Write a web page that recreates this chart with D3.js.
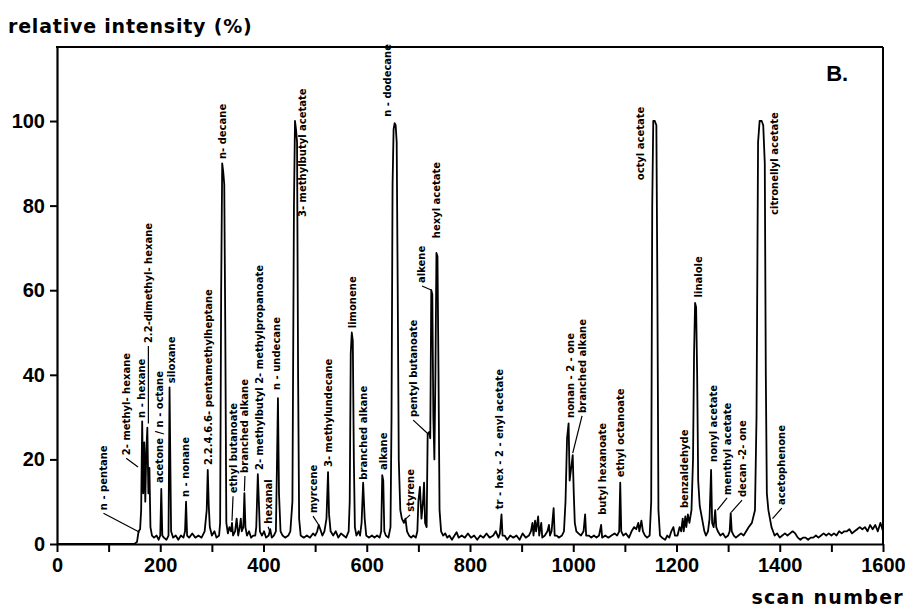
<!DOCTYPE html>
<html>
<head>
<meta charset="utf-8">
<script src="https://cdn.jsdelivr.net/npm/d3@7"></script>
<style>
  body { margin: 0; background: #fff; }
  svg { display: block; }
</style>
</head>
<body>
<svg id="chart"></svg>
<script>
// chromatogram trace: [scan number, relative intensity %]
var trace = [
  [0,0],[150,0],[155,0.5],[158,3],[161,3.5],[163,8],[165,29],[167,12],[169,24],[171,10],[173,22],[175,27.5],[177,12],[179,18],[181,4],[184,2],
  [188,1.5],[193,2],[197,1],[200,2],[202,13],[204,2],[207,1.5],[212,1],[216,2],[218,37],[221,3],[225,1.5],[230,2],[235,1],[240,2],[245,1.5],
  [248,3],[250,10],[252,2],[256,1.5],[262,2.5],[268,1.5],[274,2],[280,1.5],[286,3],[290,8],[292,17.5],[294,9],[296,4],[300,2],[305,3],[309,1.5],
  [314,2],[316,5],[318,60],[320,90],[322,88],[324,85],[326,50],[328,5],[331,2.5],[334,4],[337,3],[339,5],[341,2],[345,3],[348,6],[351,2],
  [354,4],[356,6],[358,3],[361,4],[363,12],[365,4],[368,2],[372,3],[376,1.5],[380,2],[384,2],[386,4],[389,16.5],[391,10],[393,3],[397,2],
  [401,3],[405,1.5],[410,2],[413,3.5],[416,1.5],[420,2],[424,3],[426,18],[428,34.5],[430,12],[433,3],[437,2],[442,1.5],[448,2],[452,3],[456,10],
  [459,80],[461,100],[463,98],[465,95],[467,40],[469,6],[472,2],[478,1.5],[484,2],[490,1.5],[496,2.5],[500,2],[504,3],[507,4.5],[510,3.5],[514,2],
  [518,3],[522,6],[525,17],[527,7],[530,3],[535,2],[540,3],[545,1.5],[550,2.5],[555,2],[560,1.5],[565,3],[567,10],[569,45],[571,50],[573,48],
  [575,20],[577,4],[580,2],[584,3],[587,2],[590,5],[593,14.5],[596,6],[599,2],[604,1.5],[610,2],[615,1.5],[620,2],[625,1.5],[628,3],[630,16.3],
  [632,15],[634,3],[637,2],[642,1.5],[646,4],[648,30],[650,85],[652,98],[654,99.5],[656,99],[658,95],[660,60],[662,20],[665,8],[668,6],[672,5],
  [675,6],[678,3],[682,2],[686,1.5],[690,2],[695,1.5],[698,3],[700,10],[703,13.5],[706,6],[709,10],[711,14.5],[713,5],[716,4],[718,26],[721,26.5],
  [723,25],[725,60],[727,59],[729,30],[731,20],[733,40],[735,68.8],[737,68],[739,40],[741,8],[744,3],[748,2],[752,2.5],[756,1.5],[760,2],[765,1],
  [770,2],[774,2.8],[778,1.5],[784,2],[790,1.5],[796,2.5],[802,1.5],[808,2],[814,1],[820,2],[826,1.5],[832,2.5],[838,1.5],[845,2],[850,3],[855,1.5],
  [858,2.5],[861,7],[863,2],[867,2],[872,1],[878,2],[884,1.5],[890,2],[896,1],[902,2.5],[908,1.5],[914,2],[918,3],[921,5],[923,2],[926,5.5],
  [928,3],[932,6.5],[934,2],[938,5],[940,1.5],[945,2],[950,3],[953,4.5],[955,2],[958,3],[962,8.5],[964,2],[968,2],[972,1.5],[978,2],[982,3],
  [985,10],[988,25],[991,28.5],[993,15],[996,18],[999,21],[1001,12],[1003,5],[1006,3],[1010,2.5],[1015,2],[1020,3],[1023,7],[1025,2],[1030,2],[1035,1.5],
  [1040,2],[1045,1.5],[1050,2],[1054,4.5],[1056,1.5],[1062,2],[1068,1.5],[1074,2],[1080,2.5],[1085,2],[1089,3],[1091,14.5],[1093,3],[1097,2],[1102,2.5],[1108,1.5],
  [1113,3],[1118,4],[1122,3.5],[1126,5],[1128,3],[1132,5.5],[1135,3],[1139,2],[1143,1.5],[1148,2],[1151,10],[1153,80],[1155,100],[1158,100],[1161,99],[1163,60],
  [1165,8],[1168,2],[1172,1.5],[1178,1],[1182,2],[1186,1.5],[1190,3],[1194,4],[1197,2],[1202,2],[1206,4],[1209,3],[1212,6],[1214,3],[1217,6.5],[1219,4],
  [1222,7],[1225,5],[1229,8],[1232,20],[1234,45],[1236,57],[1238,56],[1240,40],[1242,15],[1245,9],[1248,7],[1251,5],[1254,3],[1257,2],[1261,3],[1264,6],
  [1267,17.5],[1269,5],[1272,4],[1275,8],[1277,4],[1280,3],[1285,2],[1290,2.5],[1295,1.5],[1300,2],[1303,3],[1305,7.3],[1307,3],[1311,2],[1315,1.5],[1320,2],
  [1325,2.5],[1330,2],[1335,3],[1340,4],[1346,5],[1352,8],[1355,30],[1358,95],[1361,100],[1365,100],[1368,99],[1371,90],[1373,40],[1375,12],[1378,8],[1381,6],
  [1384,4],[1387,3],[1390,2],[1395,2.5],[1400,1.5],[1405,2],[1410,2.5],[1415,2],[1420,2.5],[1425,3],[1430,2.5],[1435,1.5],[1440,1],[1445,1.5],[1450,1.5],[1455,1],[1460,1.5],
  [1465,1.5],[1470,2],[1475,1.5],[1480,2],[1485,2.5],[1490,2],[1495,2.5],[1500,2],[1505,2.5],[1510,2],[1515,3],[1520,2.5],[1525,3],[1530,3],[1535,3.5],[1540,2.5],
  [1545,3],[1550,3.5],[1555,4],[1560,3.5],[1565,4],[1570,3],[1575,4.5],[1580,3.5],[1585,4.5],[1590,3],[1595,5],[1600,3]
]

// peak names: [text, text scan, text foot (%), leader end scan, leader end %] (null = no leader)
var peakLabels = [
  ["n - pentane", 90, 8, 160, 2.8],
  ["2- methyl- hexane", 134, 21, 157, 18.2],
  ["n - hexane", 164, 29.8, null, null],
  ["2.2-dimethyl- hexane", 177, 47.5, 177, 28.5],
  ["acetone / n - octane", 199.5, 14.4, null, null],
  ["siloxane", 222, 38, null, null],
  ["n - nonane", 248, 11.1, null, null],
  ["2.2.4.6.6- pentamethylheptane", 292.5, 18.7, null, null],
  ["n- decane", 320, 91, null, null],
  ["ethyl butanoate", 341, 12, 339, 5.5],
  ["branched alkane", 364, 16.8, 363, 12.5],
  ["2- methylbutyl 2- methylpropanoate", 393, 17.5, null, null],
  ["hexanal", 409, 4.8, 412, 3],
  ["n - undecane", 426, 36.4, null, null],
  ["3- methylbutyl acetate", 475, 77.3, null, null],
  ["myrcene", 496, 7.3, 507, 4.5],
  ["3- methylundecane", 525, 18.2, null, null],
  ["limonene", 573, 51, null, null],
  ["branched alkane", 593, 15.2, null, null],
  ["alkane", 631.5, 17.5, null, null],
  ["n - dodecane", 640, 101, null, null],
  ["styrene", 684, 7.6, 676, 6],
  ["pentyl butanoate", 690, 30, 719, 26],
  ["alkene", 707, 61.7, 726, 60],
  ["hexyl acetate", 736, 72.3, null, null],
  ["tr - hex - 2 - enyl acetate", 858, 8.2, null, null],
  ["nonan - 2 - one", 994, 29.8, null, null],
  ["branched alkane", 1017, 31, 999, 21.5],
  ["butyl hexanoate", 1057.6, 6.9, null, null],
  ["ethyl octanoate", 1090.6, 15.8, null, null],
  ["octyl acetate", 1131, 86, null, null],
  ["benzaldehyde", 1216, 8.5, null, null],
  ["linalole", 1242, 58.3, null, null],
  ["nonyl acetate", 1271, 19.4, null, null],
  ["menthyl acetate", 1298, 11.6, 1279, 8],
  ["decan -2- one", 1327, 11.1, 1306, 7.5],
  ["citronellyl acetate", 1389, 77.8, null, null],
  ["acetophenone", 1404, 9.2, 1386, 6]
]

var xTicks = d3.range(0, 1601, 100)
var yTicks = [0, 20, 40, 60, 80, 100]

var margin = {top: 47, right: 22, bottom: 67, left: 57}
var W = 905, H = 611
var width = W - margin.left - margin.right,
    height = H - margin.top - margin.bottom

var svg = d3.select("#chart")
    .attr("width", W)
    .attr("height", H)
var g = svg.append("g")
    .attr("transform", "translate(" + margin.left + "," + margin.top + ")")

var x = d3.scaleLinear().domain([0, 1600]).range([0, width])
var y = d3.scaleLinear().domain([0, 117.5]).range([height, 0])

var axisFont = "'Liberation Sans', Arial, sans-serif"

var xAxis = g.append("g")
    .attr("transform", "translate(0," + height + ")")
    .call(d3.axisBottom(x)
        .tickValues(xTicks)
        .tickSize(8)
        .tickSizeOuter(0)
        .tickPadding(6)
        .tickFormat(d => d % 200 === 0 ? d : ""))
var yAxis = g.append("g")
    .call(d3.axisLeft(y)
        .tickValues(yTicks)
        .tickSize(7)
        .tickSizeOuter(0)
        .tickPadding(5))

;[xAxis, yAxis].forEach(a => {
    a.select(".domain").attr("stroke", "#000").attr("stroke-width", 2.2)
    a.selectAll(".tick line").attr("stroke", "#000").attr("stroke-width", 2)
    a.selectAll(".tick text")
        .attr("fill", "#000")
        .style("font-family", axisFont)
        .style("font-size", "20px")
        .style("font-weight", "bold")
})

// frame top and right
g.append("line")
    .attr("x1", x(0) - 1).attr("x2", x(1600))
    .attr("y1", y(117.5)).attr("y2", y(117.5))
    .attr("stroke", "#000").attr("stroke-width", 2)
g.append("line")
    .attr("x1", x(1600)).attr("x2", x(1600))
    .attr("y1", y(117.5)).attr("y2", y(0))
    .attr("stroke", "#000").attr("stroke-width", 2)

var line = d3.line()
    .x(d => x(d[0]))
    .y(d => y(d[1]))

g.append("path")
    .datum(trace)
    .attr("d", line)
    .attr("fill", "none")
    .attr("stroke", "#000")
    .attr("stroke-width", 1.8)
    .attr("stroke-linejoin", "round")

var labelFont = "'DejaVu Sans', sans-serif"

peakLabels.forEach(d => {
    if (d[3] != null) {
        g.append("line")
            .attr("x1", x(d[1])).attr("y1", y(d[2]) + 3)
            .attr("x2", x(d[3])).attr("y2", y(d[4]))
            .attr("stroke", "#000")
            .attr("stroke-width", 1.2)
    }
    g.append("text")
        .attr("transform", "translate(" + x(d[1]) + "," + y(d[2]) + ") rotate(-90)")
        .attr("dy", "0.35em")
        .style("font-family", labelFont)
        .style("font-size", "10px")
        .style("font-weight", "bold")
        .text(d[0])
})

svg.append("text")
    .attr("x", 8)
    .attr("y", 33)
    .style("font-family", "'DejaVu Sans', sans-serif")
    .style("font-size", "19px")
    .style("font-weight", "bold")
    .style("letter-spacing", "0.8px")
    .text("relative intensity (%)")

svg.append("text")
    .attr("x", 904)
    .attr("y", 604)
    .attr("text-anchor", "end")
    .style("font-family", "'DejaVu Sans', sans-serif")
    .style("font-size", "19px")
    .style("font-weight", "bold")
    .style("letter-spacing", "1.3px")
    .text("scan  number")

g.append("text")
    .attr("x", x(1490))
    .attr("y", y(109.5))
    .style("font-family", axisFont)
    .style("font-size", "22px")
    .style("font-weight", "bold")
    .text("B.")
</script>
</body>
</html>
